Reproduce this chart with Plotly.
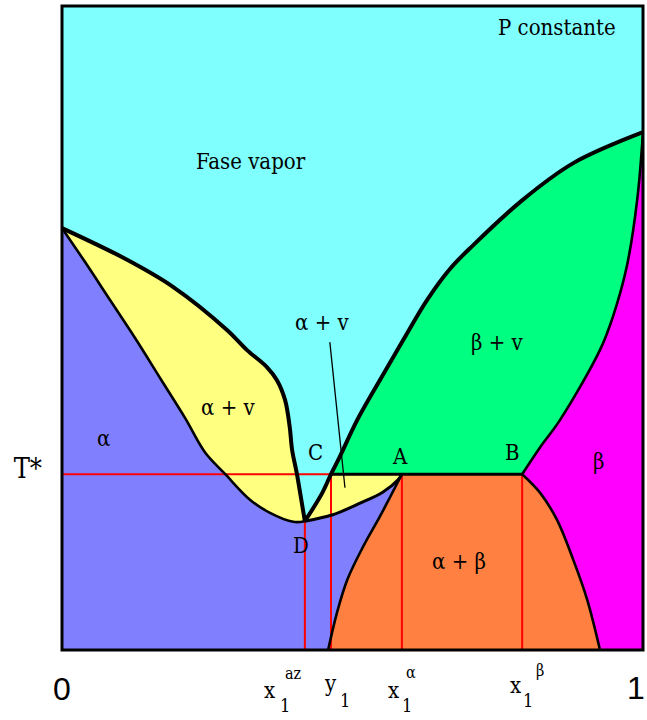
import plotly.graph_objects as go

# Invariant points (composition x1, reduced temperature)
T_STAR = 0.273
X_AZ, T_AZ = 0.418, 0.200
Y1 = 0.463
X_ALPHA = 0.585
X_BETA = 0.792

# Dew curve, left branch: pure 2 -> azeotrope D
vap_left_x = [0.0, 0.112, 0.191, 0.284, 0.318, 0.353, 0.370, 0.384, 0.392, 0.396, 0.404, 0.411, 0.418]
vap_left_t = [0.655, 0.606, 0.564, 0.497, 0.466, 0.439, 0.419, 0.388, 0.346, 0.311, 0.275, 0.238, 0.200]
# Dew curve, right branch: D -> C -> pure 1
vap_right_x = [0.418, 0.448, 0.463, 0.478, 0.508, 0.547, 0.587, 0.628, 0.668, 0.707, 0.793, 0.880, 1.0]
vap_right_t = [0.200, 0.244, 0.273, 0.300, 0.357, 0.419, 0.481, 0.543, 0.592, 0.628, 0.699, 0.756, 0.804]
# Alpha solidus: pure 2 -> D, and D -> A
sol_a_left_x = [0.0, 0.040, 0.083, 0.126, 0.169, 0.212, 0.246, 0.281, 0.324, 0.358, 0.398, 0.418]
sol_a_left_t = [0.655, 0.602, 0.543, 0.484, 0.422, 0.360, 0.307, 0.273, 0.233, 0.213, 0.199, 0.200]
sol_a_right_x = [0.418, 0.466, 0.513, 0.552, 0.578, 0.585]
sol_a_right_t = [0.200, 0.210, 0.228, 0.245, 0.264, 0.273]
# Beta solidus: pure 1 -> B
sol_b_x = [1.0, 0.990, 0.972, 0.948, 0.926, 0.857, 0.823, 0.792]
sol_b_t = [0.804, 0.699, 0.595, 0.517, 0.466, 0.357, 0.315, 0.273]
# Solvus lines below T*
solv_a_x = [0.585, 0.565, 0.547, 0.518, 0.491, 0.473, 0.458]
solv_a_t = [0.273, 0.238, 0.207, 0.160, 0.109, 0.057, 0.0]
solv_b_x = [0.792, 0.823, 0.852, 0.880, 0.904, 0.926]
solv_b_t = [0.273, 0.244, 0.202, 0.140, 0.078, 0.0]

# Composition labels under the axis: (x1 value, letter, subscript, superscript)
comp_labels = [(X_AZ, "x", "1", "az"), (Y1, "y", "1", ""),
               (X_ALPHA, "x", "1", "α"), (X_BETA, "x", "1", "β")]
# pixel offsets of letter / subscript / superscript from each tick position
comp_offsets = [((-35, -40), (-20, -55), (-11, -23)),
                ((-1, -33), (14, -50), (0, 0)),
                ((-8, -40), (5, -55), (9, -22)),
                ((-7, -35), (6, -50), (18, -20))]

C_VAP, C_ALPHA, C_YEL = "#80FFFF", "#8080FF", "#FFFF80"
C_GREEN, C_MAG, C_OR = "#00FF80", "#FF00FF", "#FF8040"

ic = vap_right_t.index(T_STAR)  # index of C on the dew curve

fig = go.Figure()


def poly(*segs):
    """Join boundary pieces into one closed outline; pieces meet at sharp corners."""
    xs, ts = [], []
    for sx, st in segs:
        xs += [sx[0]] + list(sx) + [sx[-1]]
        ts += [st[0]] + list(st) + [st[-1]]
    return xs, ts


def area(outline, color):
    xs, ts = outline
    fig.add_trace(go.Scatter(x=xs, y=ts, fill="toself", fillcolor=color, mode="lines",
                             line=dict(width=0, shape="spline", smoothing=1, simplify=False),
                             hoverinfo="skip", showlegend=False))


def curve(xs, ts, color="black", width=3.0, smooth=True):
    line = dict(color=color, width=width)
    if smooth:
        line.update(shape="spline", smoothing=1)
    fig.add_trace(go.Scatter(x=xs, y=ts, mode="lines", line=line,
                             hoverinfo="skip", showlegend=False))


rev = lambda a: a[::-1]

# alpha solid
area(poly(([0], [0]), (sol_a_left_x, sol_a_left_t), (sol_a_right_x, sol_a_right_t),
          (solv_a_x, solv_a_t)), C_ALPHA)
# alpha + vapour, left lens
area(poly((vap_left_x, vap_left_t), (rev(sol_a_left_x), rev(sol_a_left_t))), C_YEL)
# alpha + vapour, below C
area(poly((vap_right_x[:ic + 1], vap_right_t[:ic + 1]),
          (rev(sol_a_right_x), rev(sol_a_right_t))), C_YEL)
# beta + vapour
area(poly((vap_right_x[ic:], vap_right_t[ic:]), (sol_b_x, sol_b_t)), C_GREEN)
# beta solid
area(poly((sol_b_x, sol_b_t), (solv_b_x, solv_b_t), ([1], [0])), C_MAG)
# alpha + beta
area(poly(([X_ALPHA], [T_STAR]), (solv_b_x, solv_b_t), (rev(solv_a_x), rev(solv_a_t))), C_OR)

# construction lines
red = "#FF0000"
curve([0, Y1], [T_STAR, T_STAR], red, 2, False)
curve([X_AZ, X_AZ], [T_AZ, 0], red, 2, False)
curve([Y1, Y1], [T_STAR, 0], red, 2, False)
curve([X_ALPHA, X_ALPHA], [T_STAR, 0], red, 2, False)
curve([X_BETA, X_BETA], [T_STAR, 0], red, 2, False)

# phase boundaries
curve(vap_left_x, vap_left_t, width=4)
curve(vap_right_x, vap_right_t, width=4)
curve(sol_a_left_x, sol_a_left_t, width=2.6)
curve(sol_a_right_x, sol_a_right_t, width=3)
curve(sol_b_x, sol_b_t, width=2.6)
curve(solv_a_x, solv_a_t, width=2.6)
curve(solv_b_x, solv_b_t, width=2.6)
curve([Y1, X_BETA], [T_STAR, T_STAR], width=3, smooth=False)
# leader line for the small alpha + v field
curve([0.461, 0.487], [0.478, 0.252], width=1.3, smooth=False)

FONT = "DejaVu Serif Condensed, DejaVu Serif, serif"
SANS = "Liberation Sans, Arial, sans-serif"
labels = [
    ("P constante", 0.852, 0.967), ("Fase vapor", 0.325, 0.758),
    ("α + v", 0.448, 0.509), ("β + v", 0.750, 0.478), ("α + v", 0.286, 0.376),
    ("α", 0.071, 0.329), ("β", 0.923, 0.292), ("C", 0.437, 0.307),
    ("A", 0.582, 0.300), ("B", 0.776, 0.306), ("D", 0.411, 0.163),
    ("α + β", 0.683, 0.137),
]
for txt, x, y in labels:
    fig.add_annotation(x=x, y=y, text=txt, showarrow=False,
                       font=dict(family=FONT, size=22, color="black"))

for (xv, letter, sub, sup), (o_main, o_sub, o_sup) in zip(comp_labels, comp_offsets):
    for txt, (dx, dy), size in ((letter, o_main, 22), (sub, o_sub, 18), (sup, o_sup, 16)):
        if txt:
            fig.add_annotation(x=xv, xref="x", y=0, yref="paper", text=txt, showarrow=False,
                               xshift=dx, yshift=dy, xanchor="center", yanchor="middle",
                               font=dict(family=FONT, size=size, color="black"))

# pure-component end of the axis, kept inside the page edge
fig.add_annotation(x=1, xref="x", y=0, yref="paper", text="1", showarrow=False,
                   xanchor="right", yanchor="middle", xshift=4, yshift=-38,
                   font=dict(family=SANS, size=32, color="black"))

fig.add_shape(type="rect", xref="paper", yref="paper", x0=0, x1=1, y0=0, y1=1,
              line=dict(color="black", width=3))

fig.update_layout(
    width=647, height=720,
    margin=dict(l=62, r=4, t=6, b=70, autoexpand=False),
    paper_bgcolor="white", plot_bgcolor=C_VAP,
    showlegend=False,
    xaxis=dict(range=[0, 1], showgrid=False, zeroline=False, showline=False,
               tickvals=[0], ticktext=["0"], ticks="", tickangle=0,
               tickfont=dict(family=SANS, size=32, color="black"),
               ticklabelstandoff=17, automargin=False, fixedrange=True),
    yaxis=dict(range=[0, 1], showgrid=False, zeroline=False, showline=False,
               tickvals=[T_STAR], ticktext=["T*"], ticks="",
               tickfont=dict(family=FONT, size=27, color="black"),
               ticklabelstandoff=19, ticklabelshift=-6, automargin=False, fixedrange=True),
)

fig.write_html("out.html")
